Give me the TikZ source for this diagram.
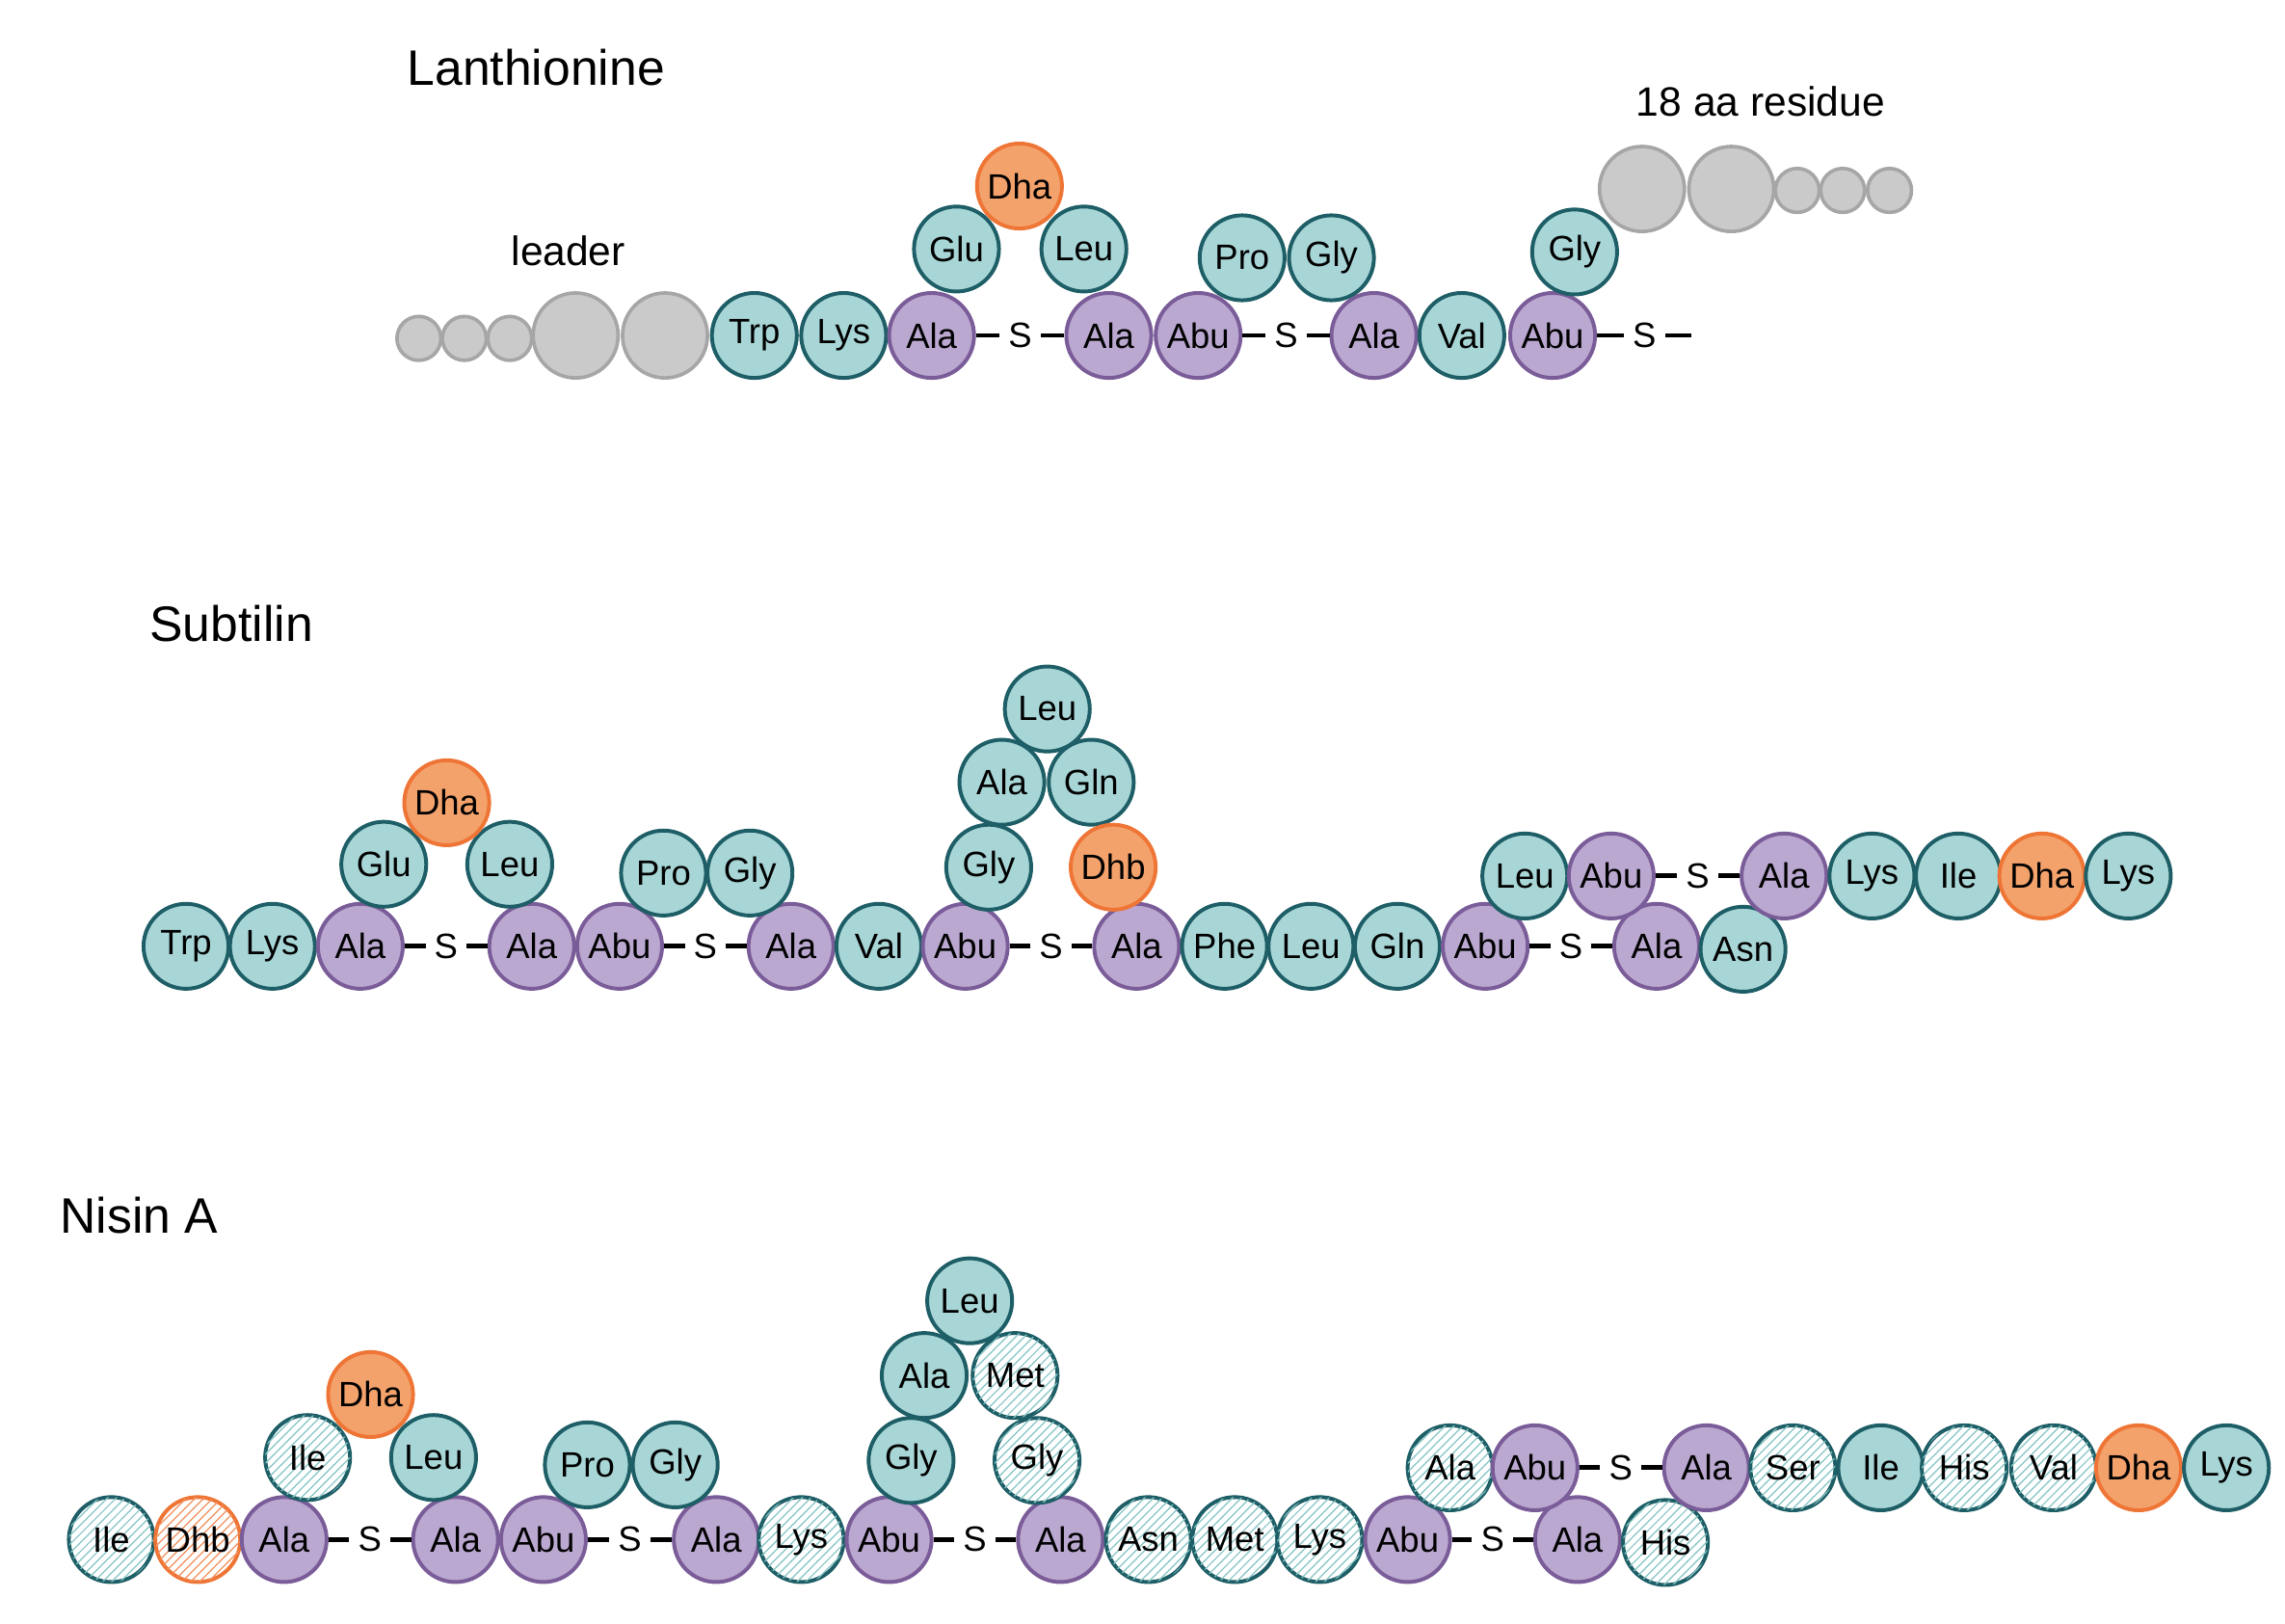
\documentclass[tikz,border=0pt]{standalone}
\usepackage{fontspec}
\setmainfont{Liberation Sans}
\usetikzlibrary{patterns}
\definecolor{tf}{HTML}{A8D6D7}\definecolor{tb}{HTML}{1E5E66}
\definecolor{pf}{HTML}{BBA8D1}\definecolor{pb}{HTML}{7A5C98}
\definecolor{of}{HTML}{F4A26C}\definecolor{ob}{HTML}{EE7535}
\definecolor{gf}{HTML}{CACACA}\definecolor{gb}{HTML}{A6A6A6}
\begin{document}
\begin{tikzpicture}[x=0.5pt,y=-0.5pt,
 res/.style={circle,minimum size=29pt,inner sep=0pt,line width=1.3pt,font=\fontsize{12}{12}\selectfont},
 T/.style={res,fill=tf,draw=tb},
 P/.style={res,fill=pf,draw=pb},
 O/.style={res,fill=of,draw=ob},
 TH/.style={res,draw=tb,fill=white,postaction={pattern=north east lines,pattern color=tf!80!teal}},
 OH/.style={res,draw=ob,fill=white,postaction={pattern=north east lines,pattern color=ob!80}},
 G/.style={circle,inner sep=0pt,fill=gf,draw=gb,line width=1.2pt},
 GL/.style={G,minimum size=29pt},
 GS/.style={G,minimum size=15pt},
 S/.style={fill=white,inner sep=3pt,font=\fontsize{12}{12}\selectfont},
 lk/.style={line width=1.6pt},
 lab/.style={font=\fontsize{14}{14}\selectfont},
 ttl/.style={font=\fontsize{17}{17}\selectfont}]
\useasboundingbox (0,0) rectangle (1560,1108);
% ---------- Lanthionine ----------
\node[ttl] (t1) at (366,46) {Lanthionine};
\node[lab] (l1) at (388,171) {leader};
\node[lab] (l2) at (1202,69) {18 aa residue};
\node[GS] (g1) at (286,231) {};\node[GS] (g2) at (317,231) {};\node[GS] (g3) at (348,231) {};
\node[GL] (g4) at (393,229) {};\node[GL] (g5) at (454,229) {};
\node[GL] (g6) at (1121,129) {};\node[GL] (g7) at (1182,129) {};
\node[GS] (g8) at (1227,130) {};\node[GS] (g9) at (1258,130) {};\node[GS] (g10) at (1290,130) {};
\node[T] (a1) at (515,229) {Trp};\node[T] (a2) at (576,229) {Lys};
\node[P] (a3) at (636,229) {Ala};\node[P] (a4) at (757,229) {Ala};\node[P] (a5) at (818,229) {Abu};
\node[P] (a6) at (938,229) {Ala};\node[T] (a7) at (998,229) {Val};\node[P] (a8) at (1060,229) {Abu};
\coordinate (ae) at (1155,229);
\draw[lk] (a3) -- node[S]{S} (a4);\draw[lk] (a5) -- node[S]{S} (a6);\draw[lk] (a8) -- node[S]{S} (ae);
\node[T] (a9) at (653,170) {Glu};\node[T] (a11) at (740,170) {Leu};\node[O] (a10) at (696,127) {Dha};
\node[T] (a12) at (848,176) {Pro};\node[T] (a13) at (909,176) {Gly};\node[T] (a14) at (1075,172) {Gly};
% ---------- Subtilin ----------
\node[ttl] (t2) at (158,426) {Subtilin};
\node[T] (b1) at (127,646) {Trp};\node[T] (b2) at (186,646) {Lys};\node[P] (b3) at (246,646) {Ala};
\node[P] (b4) at (363,646) {Ala};\node[P] (b5) at (423,646) {Abu};\node[P] (b6) at (540,646) {Ala};
\node[T] (b7) at (600,646) {Val};\node[P] (b8) at (659,646) {Abu};\node[P] (b9) at (776,646) {Ala};
\node[T] (b10) at (836,646) {Phe};\node[T] (b11) at (895,646) {Leu};\node[T] (b12) at (954,646) {Gln};
\node[P] (b13) at (1014,646) {Abu};\node[P] (b14) at (1131,646) {Ala};\node[T] (b15) at (1190,648) {Asn};
\draw[lk] (b3) -- node[S]{S} (b4);\draw[lk] (b5) -- node[S]{S} (b6);
\draw[lk] (b8) -- node[S]{S} (b9);\draw[lk] (b13) -- node[S]{S} (b14);
\node[T] (b16) at (262,590) {Glu};\node[T] (b18) at (348,590) {Leu};\node[O] (b17) at (305,548) {Dha};
\node[T] (b19) at (453,596) {Pro};\node[T] (b20) at (512,596) {Gly};
\node[T] (b21) at (675,592) {Gly};\node[T] (b22) at (684,534) {Ala};\node[T] (b23) at (745,534) {Gln};
\node[T] (b24) at (715,484) {Leu};\node[O] (b25) at (760,592) {Dhb};
\node[T] (b26) at (1041,598) {Leu};\node[P] (b27) at (1100,598) {Abu};\node[P] (b28) at (1218,598) {Ala};
\node[T] (b29) at (1278,598) {Lys};\node[T] (b30) at (1337,598) {Ile};\node[O] (b31) at (1394,598) {Dha};
\node[T] (b32) at (1453,598) {Lys};
\draw[lk] (b27) -- node[S]{S} (b28);
% ---------- Nisin A ----------
\node[ttl] (t3) at (95,830) {Nisin A};
\node[TH] (c1) at (76,1051) {Ile};\node[OH] (c2) at (135,1051) {Dhb};\node[P] (c3) at (194,1051) {Ala};
\node[P] (c4) at (311,1051) {Ala};\node[P] (c5) at (371,1051) {Abu};\node[P] (c6) at (489,1051) {Ala};
\node[TH] (c7) at (547,1051) {Lys};\node[P] (c8) at (607,1051) {Abu};\node[P] (c9) at (724,1051) {Ala};
\node[TH] (c10) at (784,1051) {Asn};\node[TH] (c11) at (843,1051) {Met};\node[TH] (c12) at (901,1051) {Lys};
\node[P] (c13) at (961,1051) {Abu};\node[P] (c14) at (1077,1051) {Ala};\node[TH] (c15) at (1137,1053) {His};
\draw[lk] (c3) -- node[S]{S} (c4);\draw[lk] (c5) -- node[S]{S} (c6);
\draw[lk] (c8) -- node[S]{S} (c9);\draw[lk] (c13) -- node[S]{S} (c14);
\node[TH] (c16) at (210,995) {Ile};\node[T] (c18) at (296,995) {Leu};\node[O] (c17) at (253,952) {Dha};
\node[T] (c19) at (401,1000) {Pro};\node[T] (c20) at (461,1000) {Gly};
\node[T] (c21) at (622,997) {Gly};\node[T] (c22) at (631,939) {Ala};\node[TH] (c23) at (693,939) {Met};
\node[T] (c24) at (662,888) {Leu};\node[TH] (c25) at (708,997) {Gly};
\node[TH] (c26) at (990,1002) {Ala};\node[P] (c27) at (1048,1002) {Abu};\node[P] (c28) at (1165,1002) {Ala};
\node[TH] (c29) at (1224,1002) {Ser};\node[T] (c30) at (1284,1002) {Ile};\node[TH] (c31) at (1341,1002) {His};
\node[TH] (c32) at (1402,1002) {Val};\node[O] (c33) at (1460,1002) {Dha};\node[T] (c34) at (1520,1002) {Lys};
\draw[lk] (c27) -- node[S]{S} (c28);
\end{tikzpicture}
\end{document}
